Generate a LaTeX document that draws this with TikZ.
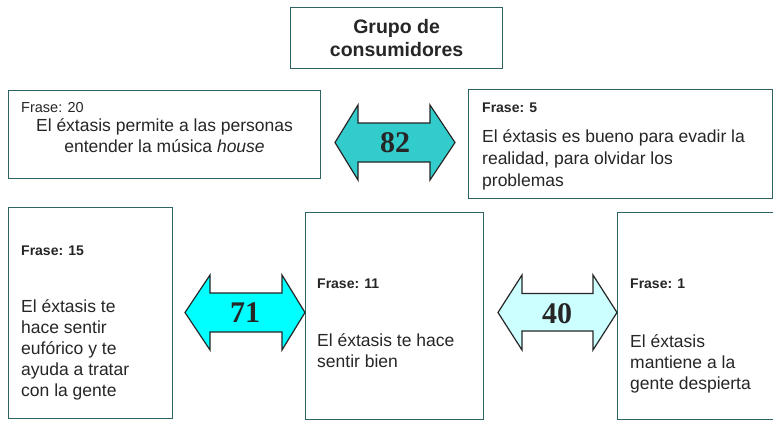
\documentclass[tikz,border=0pt]{standalone}
\usepackage{fontspec}
\setmainfont{Liberation Sans}
\newfontfamily\numfont{Liberation Serif}
\definecolor{boxline}{HTML}{2F6262}
\definecolor{txt}{HTML}{262626}
\definecolor{cA}{HTML}{33CCCC}
\definecolor{cB}{HTML}{00FFFF}
\definecolor{cC}{HTML}{CCFFFF}
\tikzset{
  frame/.style={draw=boxline, line width=1.2pt, fill=white, inner sep=0pt, anchor=north west},
  lbl/.style={font=\fontsize{14}{16}\selectfont\bfseries, text=txt, inner sep=0pt, anchor=base west},
  lblr/.style={font=\fontsize{14.5}{16}\selectfont, text=txt, inner sep=0pt, anchor=base west},
  body/.style={font=\fontsize{17.5}{21}\selectfont, text=txt, inner sep=0pt, align=left, anchor=base west},
  arrowshape/.style={draw=black!85, line width=1.2pt, line join=miter},
  num/.style={font=\fontsize{30}{30}\selectfont\numfont\bfseries, text=black!85, inner sep=0pt}
}
\begin{document}
\begin{tikzpicture}[x=1pt,y=-1pt]
\useasboundingbox (0,0) rectangle (773,420);
\fill[white] (0,0) rectangle (773,420);
% boxes
\node[frame, minimum width=212pt, minimum height=61pt] (top) at (290,7) {};
\node[font=\fontsize{19.5}{23}\selectfont\bfseries, text=txt, align=center, inner sep=0pt] (toptext) at (top.center) {Grupo de\\consumidores};
\node[frame, minimum width=312pt, minimum height=88pt] (f20) at (8,90) {};
\node[frame, minimum width=304pt, minimum height=109pt] (f5) at (468,89) {};
\node[frame, minimum width=164pt, minimum height=211pt] (f15) at (8,207) {};
\node[frame, minimum width=178pt, minimum height=207pt] (f11) at (305,212) {};
\node[frame, minimum width=157pt, minimum height=207pt] (f1) at (617,212) {};
% texts (multi-line nodes: base = baseline of last line)
\node[lblr] (l20) at (21,112) {Frase: 20};
\node[body, align=center, anchor=base] (t20) at (164.5,152) {El éxtasis permite a las personas\\entender la música \textit{house}};
\node[lbl] (l5) at (482,112) {Frase: 5};
\node[body, font=\fontsize{17.5}{22}\selectfont] (t5) at (482,186) {El éxtasis es bueno para evadir la\\realidad, para olvidar los\\problemas};
\node[lbl] (l15) at (21,255) {Frase: 15};
\node[body] (t15) at (21,396) {El éxtasis te\\hace sentir\\eufórico y te\\ayuda a tratar\\con la gente};
\node[lbl] (l11) at (317,288) {Frase: 11};
\node[body] (t11) at (317,367) {El éxtasis te hace\\sentir bien};
\node[lbl] (l1) at (630,288) {Frase: 1};
\node[body] (t1) at (630,389) {El éxtasis\\mantiene a la\\gente despierta};
% double arrows
\draw[arrowshape, fill=cA, shift={(395,142.5)}] (-60,0) -- (-37,-37.5) -- (-37,-19.5) -- (35,-19.5) -- (35,-37.5) -- (60,0) -- (35,37.5) -- (35,19.5) -- (-37,19.5) -- (-37,37.5) -- cycle;
\node[num] (n82) at (395,143) {82};
\draw[arrowshape, fill=cB, shift={(245,312.5)}] (-60,0) -- (-35,-37.5) -- (-35,-19.5) -- (37,-19.5) -- (37,-37.5) -- (60,0) -- (37,37.5) -- (37,19.5) -- (-35,19.5) -- (-35,37.5) -- cycle;
\node[num] (n71) at (245,313) {71};
\draw[arrowshape, fill=cC, shift={(557.5,312.5)}] (-59.5,0) -- (-35.5,-37.5) -- (-35.5,-19) -- (35.5,-19) -- (35.5,-37.5) -- (59.5,0) -- (35.5,37.5) -- (35.5,18.5) -- (-35.5,18.5) -- (-35.5,37.5) -- cycle;
\node[num] (n40) at (557,314) {40};
\end{tikzpicture}
\end{document}
